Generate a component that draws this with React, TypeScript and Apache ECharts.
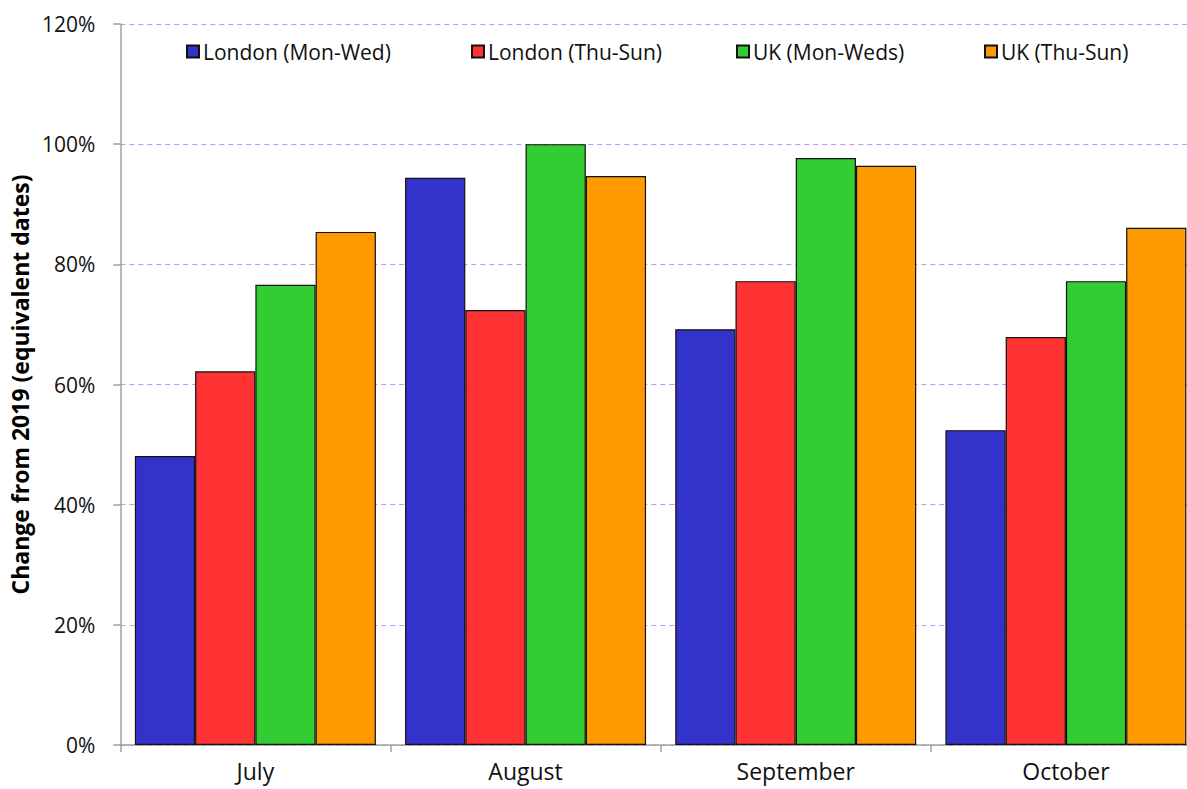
import React, { useEffect, useRef } from "react";
import * as echarts from "echarts";

const categories = ["July", "August", "September", "October"];
const seriesNames = ["London (Mon-Wed)", "London (Thu-Sun)", "UK (Mon-Weds)", "UK (Thu-Sun)"];
const londonMonWed = [48.1, 94.4, 69.2, 52.4];
const londonThuSun = [62.2, 72.4, 77.2, 67.9];
const ukMonWeds = [76.6, 100.0, 97.7, 77.2];
const ukThuSun = [85.4, 94.7, 96.4, 86.1];
const colors = ["#3333cc", "#ff3333", "#33cc33", "#ff9900"];
const legendLefts = [181, 466, 731, 979];

const FONT = "'Open Sans', Lato, sans-serif";

export default function App() {
  const ref = useRef<HTMLDivElement>(null);
  useEffect(() => {
    if (!ref.current) return;
    const chart = echarts.init(ref.current, null, { renderer: "svg" });
    const values = [londonMonWed, londonThuSun, ukMonWeds, ukThuSun];
    chart.setOption({
      animation: false,
      textStyle: { fontFamily: FONT },
      grid: { left: 116, top: 24, bottom: 44, right: 0, containLabel: false },
      legend: seriesNames.map((n, i) => ({
        data: [n],
        left: legendLefts[i],
        top: 36,
        itemWidth: 12,
        itemHeight: 12,
        itemGap: 6,
        icon: "rect",
        textStyle: { fontFamily: FONT, fontSize: 21, color: "#111", padding: [0, 0, 0, -1] },
      })),
      xAxis: {
        type: "category",
        data: categories,
        axisLine: { lineStyle: { color: "#a0a0a0", width: 1.5 } },
        axisTick: { show: true, length: 7, lineStyle: { color: "#a0a0a0", width: 1.5 } },
        axisLabel: { fontSize: 23, lineHeight: 24, color: "#111", margin: 14, fontFamily: FONT },
        splitLine: { show: false },
      },
      yAxis: {
        type: "value",
        min: 0,
        max: 120,
        interval: 20,
        name: "Change from 2019 (equivalent dates)",
        nameLocation: "middle",
        nameGap: 81,
        nameTextStyle: { fontSize: 23, fontWeight: "bold", color: "#000", fontFamily: FONT },
        axisLine: { show: true, lineStyle: { color: "#a0a0a0", width: 1.5 } },
        axisTick: { show: true, length: 7, lineStyle: { color: "#a0a0a0", width: 1.5 } },
        axisLabel: { fontSize: 21, color: "#111", margin: 25, formatter: "{value}%", fontFamily: FONT },
        splitLine: { show: true, lineStyle: { color: "#b199ff", type: [5, 4], width: 1 } },
      },
      series: seriesNames.map((n, i) => ({
        name: n,
        type: "bar",
        data: values[i],
        barGap: "0%",
        barCategoryGap: "10.8%",
        itemStyle: { color: colors[i], borderColor: "#111", borderWidth: 1.2 },
      })),
    });
    return () => chart.dispose();
  }, []);
  return (
    <div style={{ position: "absolute", left: 0, top: 0, width: 1187, height: 789, overflow: "hidden" }}>
      <div ref={ref} style={{ width: 1201, height: 789 }} />
    </div>
  );
}
